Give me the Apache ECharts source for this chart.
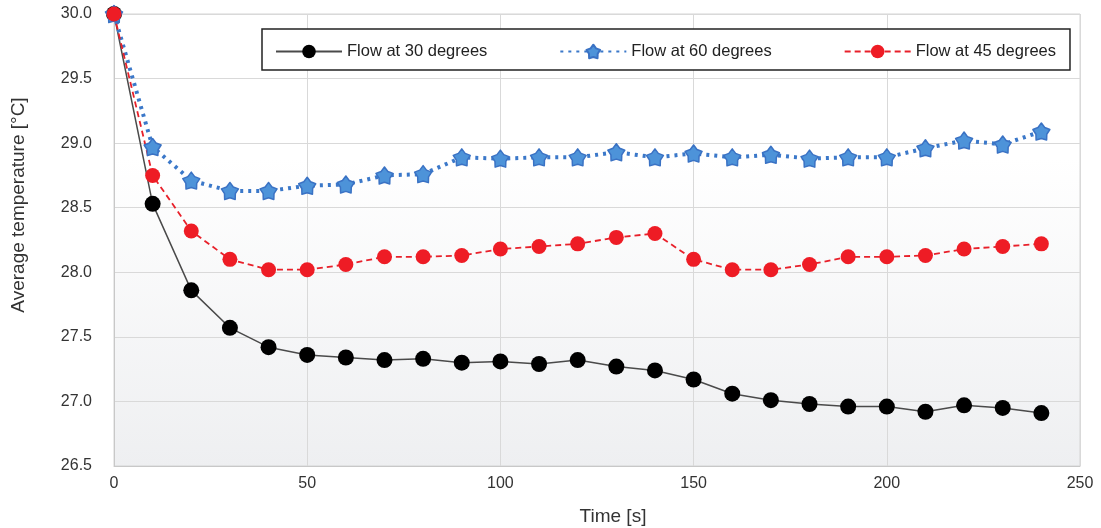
<!DOCTYPE html>
<html>
<head>
<meta charset="utf-8">
<script src="https://cdn.jsdelivr.net/npm/echarts@6/dist/echarts.min.js"></script>
<style>html,body{margin:0;padding:0;background:#fff}#c{width:1101px;height:528px}</style>
</head>
<body>
<div id="c"></div>
<script>
const times = [0,10,20,30,40,50,60,70,80,90,100,110,120,130,140,150,160,170,180,190,200,210,220,230,240];
const flow30 = [30.0,28.53,27.86,27.57,27.42,27.36,27.34,27.32,27.33,27.30,27.31,27.29,27.32,27.27,27.24,27.17,27.06,27.01,26.98,26.96,26.96,26.92,26.97,26.95,26.91];
const flow60 = [30.0,28.97,28.71,28.63,28.63,28.67,28.68,28.75,28.76,28.89,28.88,28.89,28.89,28.93,28.89,28.92,28.89,28.91,28.88,28.89,28.89,28.96,29.02,28.99,29.09];
const flow45 = [30.0,28.75,28.32,28.10,28.02,28.02,28.06,28.12,28.12,28.13,28.18,28.20,28.22,28.27,28.30,28.10,28.02,28.02,28.06,28.12,28.12,28.13,28.18,28.20,28.22];
const xTicks = [0,50,100,150,200,250];
const yTicks = [26.5,27.0,27.5,28.0,28.5,29.0,29.5,30.0];
const seriesNames = ['Flow at 30 degrees','Flow at 60 degrees','Flow at 45 degrees'];
const xTitle = 'Time [s]';
const yTitle = 'Average temperature [°C]';

const pair = arr => times.map((t,i)=>[t,arr[i]]);
const star = 'path://M50,0 L68.8,24.1 L97.55,34.55 L80.4,59.9 L79.39,90.45 L50,82 L20.61,90.45 L19.6,59.9 L2.45,34.55 L31.2,24.1 Z';
const font = 'Liberation Sans, Arial, sans-serif';

const chart = echarts.init(document.getElementById('c'), null, {renderer:'canvas'});
chart.setOption({
  animation:false,
  backgroundColor:'#fff',
  grid:{left:114,right:21,top:14,bottom:62,show:true,borderColor:'#d4d4d4',borderWidth:1,
    backgroundColor:new echarts.graphic.LinearGradient(0,0,0,1,[{offset:0,color:'#ffffff'},{offset:0.32,color:'#ffffff'},{offset:1,color:'#eeeff1'}])},
  legend:{
    data:seriesNames, left:262, top:29, orient:'horizontal',
    itemWidth:66, itemHeight:17, itemGap:72,
    padding:[14,14,10,13],
    borderColor:'#222', borderWidth:1.5, backgroundColor:'#fff',
    textStyle:{fontFamily:font,fontSize:16.5,color:'#222'}
  },
  graphic:[
    {type:'text',x:613,y:517,style:{text:xTitle,font:'19px '+font,fill:'#333',textAlign:'center',textVerticalAlign:'middle'}},
    {type:'text',x:19,y:205,rotation:Math.PI/2,style:{text:yTitle,font:'19px '+font,fill:'#333',textAlign:'center',textVerticalAlign:'middle'}}
  ],
  xAxis:{type:'value',min:xTicks[0],max:xTicks[xTicks.length-1],interval:50,
    axisLine:{show:true,lineStyle:{color:'#c8c8c8',width:1}},
    axisTick:{show:false},
    axisLabel:{fontFamily:font,fontSize:16,color:'#333',margin:10},
    splitLine:{show:true,lineStyle:{color:'#d9d9d9',width:1}}
  },
  yAxis:{type:'value',min:yTicks[0],max:yTicks[yTicks.length-1],interval:0.5,
    axisLine:{show:true,lineStyle:{color:'#c8c8c8',width:1}},
    axisTick:{show:false},
    axisLabel:{fontFamily:font,fontSize:16,color:'#333',margin:22,formatter:v=>v.toFixed(1)},
    splitLine:{show:true,lineStyle:{color:'#d9d9d9',width:1}}
  },
  series:[
    {name:seriesNames[0],type:'line',data:pair(flow30),clip:false,
      symbol:'circle',symbolSize:16,
      lineStyle:{color:'#4a4a4a',width:1.5,type:'solid'},
      itemStyle:{color:'#000',borderColor:'#000',borderWidth:0}},
    {name:seriesNames[1],type:'line',data:pair(flow60),clip:false,
      symbol:star,symbolSize:17,
      lineStyle:{color:'#3b78c9',width:4,type:[3,5]},
      itemStyle:{color:'#4d93d9',borderColor:'#3a72c4',borderWidth:1.5,borderJoin:'round'}},
    {name:seriesNames[2],type:'line',data:pair(flow45),clip:false,
      symbol:'circle',symbolSize:15,
      lineStyle:{color:'#e8202a',width:1.8,type:[6,4]},
      itemStyle:{color:'#ee1c25',borderWidth:0}}
  ]
});
</script>
</body>
</html>
